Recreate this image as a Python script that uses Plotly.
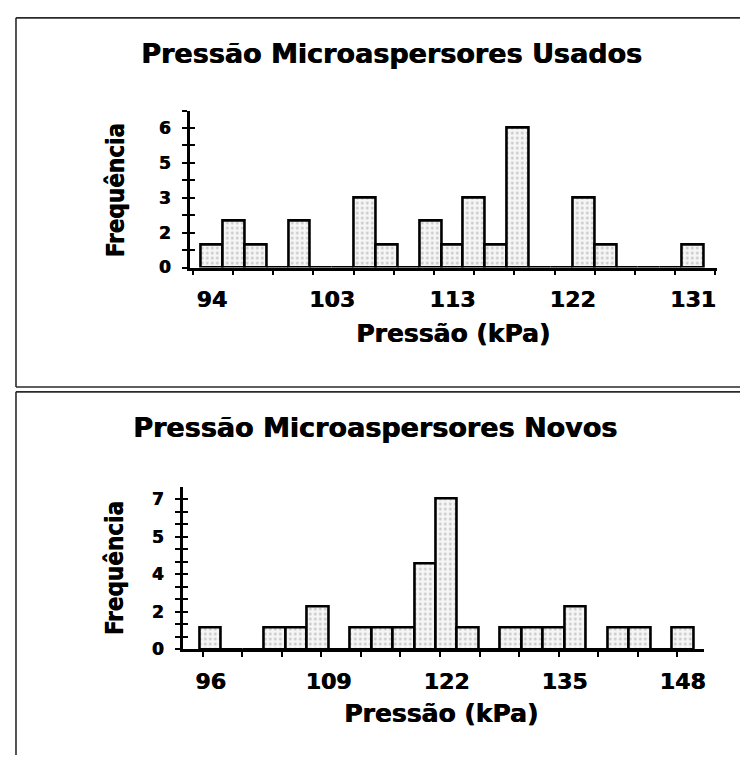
import plotly.graph_objects as go

# ---------------- data ----------------
used_bins = [94.00, 95.68, 97.36, 99.05, 100.73, 102.41, 104.09, 105.77, 107.45, 109.14,
             110.82, 112.50, 114.18, 115.86, 117.55, 119.23, 120.91, 122.59, 124.27,
             125.95, 127.64, 129.32, 131.00]
used_counts = [1, 2, 1, 0, 2, 0, 0, 3, 1, 0, 2, 1, 3, 1, 6, 0, 0, 3, 1, 0, 0, 0, 1]
used_bin_width = 1.68

new_bins = [96.00, 98.36, 100.73, 103.09, 105.45, 107.82, 110.18, 112.55, 114.91, 117.27,
            119.64, 122.00, 124.36, 126.73, 129.09, 131.45, 133.82, 136.18, 138.55,
            140.91, 143.27, 145.64, 148.00]
new_counts = [1, 0, 0, 1, 1, 2, 0, 1, 1, 1, 4, 7, 1, 0, 1, 1, 1, 2, 0, 1, 1, 0, 1]
new_bin_width = 2.36

used_xtick_vals = [94, 103.25, 112.5, 121.75, 131]
used_xtick_text = ["94", "103", "113", "122", "131"]
new_xtick_vals = [96, 109, 122, 135, 148]
new_xtick_text = ["96", "109", "122", "135", "148"]

used_ytick_vals = [0, 1.5, 3, 4.5, 6]
used_ytick_text = ["0", "2", "3", "5", "6"]
new_ytick_vals = [0, 1.75, 3.5, 5.25, 7]
new_ytick_text = ["0", "2", "4", "5", "7"]

title_used = "Pressão Microaspersores Usados"
title_new = "Pressão Microaspersores Novos"
xlabel = "Pressão (kPa)"
ylabel = "Frequência"

# ---------------- layout helpers ----------------
W, H = 748, 757
def px(x):
    return x / W
def py(y):
    return 1 - y / H

BOLD = "DejaVu Sans"
COND = "DejaVu Sans Condensed, Liberation Sans Narrow, DejaVu Sans"
HEAVY = "0.7px 0 0 black"

bar_marker = dict(
    color="#f6f6f6",
    line=dict(color="black", width=2.6),
    pattern=dict(shape=".", fgcolor="#9c9c9c", size=5, solidity=0.25, fillmode="overlay"),
)

fig = go.Figure()
fig.add_trace(go.Bar(x=used_bins, y=used_counts, width=used_bin_width,
                     marker=bar_marker, xaxis="x", yaxis="y", showlegend=False))
fig.add_trace(go.Bar(x=new_bins, y=new_counts, width=new_bin_width,
                     marker=bar_marker, xaxis="x2", yaxis="y2", showlegend=False))

# invisible traces for the inner half of the crossing y ticks
fig.add_trace(go.Scatter(x=[None], y=[None], xaxis="x", yaxis="y3", showlegend=False))
fig.add_trace(go.Scatter(x=[None], y=[None], xaxis="x2", yaxis="y4", showlegend=False))

axis_common = dict(showgrid=False, zeroline=False, showline=True,
                   linecolor="black", linewidth=2.6, fixedrange=True)

used_minor_x = [92.55 + 3.09 * j for j in range(14)]
new_minor_x = [95.15 + 4.356 * j for j in range(13)]
used_minor_y = [0.75 * j for j in range(10)]
new_minor_y = [7 / 12 * j for j in range(14)]

tickfont_x = dict(family=BOLD, size=22, color="black", weight=700, shadow=HEAVY)
tickfont_y = dict(family=BOLD, size=17, color="black", weight=700, shadow=HEAVY)

fig.update_layout(
    width=W, height=H,
    margin=dict(l=0, r=0, t=0, b=0),
    paper_bgcolor="white", plot_bgcolor="rgba(0,0,0,0)",
    bargap=0,
    xaxis=dict(**axis_common, domain=[px(182), px(710)], range=[92.31, 132.86],
               anchor="y", tickvals=used_xtick_vals, ticktext=used_xtick_text,
               ticks="", tickfont=tickfont_x, ticklabelstandoff=10,
               minor=dict(tickvals=used_minor_x, ticks="outside", ticklen=5,
                          tickwidth=2, tickcolor="black")),
    yaxis=dict(**axis_common, domain=[py(263), py(104)], range=[0, 6.75],
               anchor="x", tickvals=used_ytick_vals, ticktext=used_ytick_text,
               ticks="outside", ticklen=5, tickwidth=2, tickcolor="black",
               tickfont=tickfont_y, ticklabelstandoff=8,
               minor=dict(tickvals=used_minor_y, ticks="outside", ticklen=5,
                          tickwidth=2, tickcolor="black")),
    yaxis3=dict(showgrid=False, zeroline=False, showline=False, overlaying="y",
                range=[0, 6.75], anchor="x", showticklabels=False,
                tickvals=used_minor_y, ticks="inside", ticklen=5, tickwidth=2,
                tickcolor="black", fixedrange=True),
    xaxis2=dict(**axis_common, domain=[px(175), px(697)], range=[92.95, 150.37],
                anchor="y2", tickvals=new_xtick_vals, ticktext=new_xtick_text,
                ticks="", tickfont=tickfont_x, ticklabelstandoff=10,
                minor=dict(tickvals=new_minor_x, ticks="outside", ticklen=5,
                           tickwidth=2, tickcolor="black")),
    yaxis2=dict(**axis_common, domain=[py(650), py(485)], range=[0, 7.58],
                anchor="x2", tickvals=new_ytick_vals, ticktext=new_ytick_text,
                ticks="outside", ticklen=5, tickwidth=2, tickcolor="black",
                tickfont=tickfont_y, ticklabelstandoff=8,
                minor=dict(tickvals=new_minor_y, ticks="outside", ticklen=5,
                           tickwidth=2, tickcolor="black")),
    yaxis4=dict(showgrid=False, zeroline=False, showline=False, overlaying="y2",
                range=[0, 7.58], anchor="x2", showticklabels=False,
                tickvals=new_minor_y, ticks="inside", ticklen=5, tickwidth=2,
                tickcolor="black", fixedrange=True),
)

def text_ann(x, y, text, size, family=BOLD, angle=0):
    return dict(x=px(x), y=py(y), xref="paper", yref="paper", text=text,
                showarrow=False, textangle=angle, xanchor="center", yanchor="middle",
                font=dict(family=family, size=size, color="black", weight=700,
                          shadow=HEAVY))

fig.update_layout(annotations=[
    text_ann(384, 46, title_used, 27),
    text_ann(367, 425, title_new, 27),
    text_ann(446, 330, xlabel, 25),
    text_ann(434, 715, xlabel, 25),
    text_ann(108, 185, ylabel, 24, family=COND, angle=-90),
    text_ann(108, 568, ylabel, 24, family=COND, angle=-90),
])

line_style = dict(color="#2a2a2a", width=1.6)
def seg(x0, y0, x1, y1):
    return dict(type="line", xref="paper", yref="paper",
                x0=px(x0), y0=py(y0), x1=px(x1), y1=py(y1), line=line_style)

fig.update_layout(shapes=[
    seg(8, 10, 748, 10),
    seg(8, 10, 8, 384),
    seg(8, 384, 748, 384),
    seg(8, 389, 748, 389),
    seg(8, 389, 8, 757),
])

fig.write_html("out.html")
